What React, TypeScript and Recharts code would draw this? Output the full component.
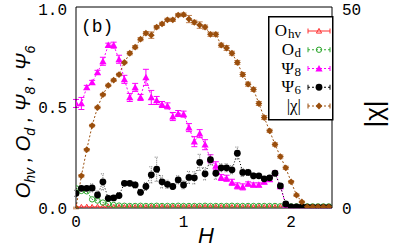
import React from "react";
import { LineChart, Line, XAxis, YAxis, ErrorBar, Legend, Label } from "recharts";

// field H, step 0.05
const hValues = [
  0, 0.05, 0.1, 0.15, 0.2, 0.25, 0.3, 0.35, 0.4, 0.45, 0.5, 0.55, 0.6, 0.65, 0.7, 0.75,
  0.8, 0.85, 0.9, 0.95, 1.0, 1.05, 1.1, 1.15, 1.2, 1.25, 1.3, 1.35, 1.4, 1.45, 1.5, 1.55,
  1.6, 1.65, 1.7, 1.75, 1.8, 1.85, 1.9, 1.95, 2.0, 2.05, 2.1, 2.15, 2.2, 2.25, 2.3, 2.35,
];

const ohv = [
  0.006, 0.005, 0.006, 0.005, 0.006, 0.005, 0.006, 0.005, 0.006, 0.005, 0.006, 0.005,
  0.006, 0.005, 0.006, 0.005, 0.006, 0.005, 0.006, 0.005, 0.006, 0.005, 0.006, 0.005,
  0.006, 0.005, 0.006, 0.005, 0.006, 0.005, 0.006, 0.005, 0.006, 0.005, 0.006, 0.005,
  0.006, 0.005, 0.006, 0.005, 0.004, 0.004, 0.004, 0.004, 0.004, 0.004, 0.004, 0.004,
];

const od = [
  0.098, 0.085, 0.083, 0.043, 0.037, 0.027, 0.02, 0.015, 0.012, 0.011, 0.01, 0.01,
  0.011, 0.01, 0.01, 0.011, 0.01, 0.01, 0.01, 0.011, 0.01, 0.01, 0.01, 0.01,
  0.011, 0.01, 0.01, 0.01, 0.01, 0.011, 0.01, 0.01, 0.01, 0.01, 0.01, 0.01,
  0.01, 0.01, 0.009, 0.009, 0.008, 0.008, 0.008, 0.008, 0.008, 0.008, 0.008, 0.008,
];

const psi8 = [
  0.52, 0.52, 0.6, 0.625, 0.675, 0.73, 0.81, 0.81, 0.74, 0.64, 0.55, 0.6,
  0.55, 0.65, 0.55, 0.535, 0.515, 0.508, 0.455, 0.47, 0.467, 0.4, 0.33, 0.37,
  0.315, 0.245, 0.21, 0.152, 0.148, 0.128, 0.11, 0.105, 0.12, 0.115, 0.115, 0.13,
  0.143, 0.173, 0.107, 0.015, 0.004, 0.003, 0.003, 0.003, 0.003, 0.003, 0.003, 0.003,
];
const psi8Err = [
  0.02, 0.03, 0.01, 0.01, 0.01, 0.02, 0.01, 0.015, 0.02, 0.02, 0.02, 0.02,
  0.015, 0.04, 0.035, 0.02, 0.015, 0.015, 0.02, 0.015, 0.015, 0.02, 0.025, 0.02,
  0.025, 0.02, 0.02, 0.015, 0.015, 0.015, 0.015, 0.015, 0.01, 0.01, 0.01, 0.01,
  0.01, 0.01, 0.01, 0.005, 0.003, 0.002, 0.002, 0.002, 0.002, 0.002, 0.002, 0.002,
];

const psi6 = [
  0.073, 0.098, 0.098, 0.1, 0.065, 0.13, 0.048, 0.05, 0.062, 0.123, 0.123, 0.115,
  0.078, 0.107, 0.165, 0.193, 0.13, 0.118, 0.107, 0.14, 0.115, 0.152, 0.15, 0.227,
  0.17, 0.24, 0.173, 0.2, 0.2, 0.19, 0.273, 0.177, 0.177, 0.16, 0.16, 0.145,
  0.15, 0.173, 0.11, 0.02, 0.006, 0.005, 0.005, 0.004, 0.003, 0.003, 0.003, 0.003,
];
const psi6Err = [
  0.015, 0.01, 0.01, 0.02, 0.02, 0.04, 0.015, 0.01, 0.015, 0.01, 0.01, 0.015,
  0.015, 0.02, 0.04, 0.06, 0.03, 0.02, 0.015, 0.02, 0.02, 0.03, 0.03, 0.04,
  0.03, 0.025, 0.03, 0.02, 0.02, 0.02, 0.03, 0.02, 0.015, 0.015, 0.01, 0.01,
  0.01, 0.01, 0.01, 0.005, 0.003, 0.002, 0.002, 0.002, 0.002, 0.002, 0.002, 0.002,
];

const chi = [
  0, 8, 14.5, 20.5, 25, 28.2, 30.5, 31.8, 33.2, 36.2, 38.5, 40,
  42, 43.5, 43, 45, 45.8, 46.8, 46.8, 48, 48.1, 47, 46.2, 45.5,
  45, 43.2, 43.2, 40.5, 39.8, 38.5, 36.2, 33.2, 30.8, 29.5, 26, 22.5,
  19.2, 15.8, 12.8, 10, 6.5, 3.2, 1.5, 0.3, 0.3, 0.3, 0.3, 0.3,
];
const chiErr = [
  0.2, 0.3, 0.3, 0.3, 0.3, 0.3, 0.3, 0.3, 0.3, 0.3, 0.4, 0.4,
  0.4, 0.4, 0.8, 0.4, 0.4, 0.4, 0.4, 0.4, 0.4, 0.9, 0.5, 0.8,
  0.5, 0.5, 0.5, 0.5, 0.6, 0.5, 0.5, 0.5, 0.5, 0.5, 0.5, 0.5,
  0.4, 0.4, 0.4, 0.4, 0.3, 0.3, 0.2, 0.1, 0.1, 0.1, 0.1, 0.1,
];

const xTicks = [0, 1, 2];
const xMinorTicks = [0, 0.2, 0.4, 0.6, 0.8, 1.0, 1.2, 1.4, 1.6, 1.8, 2.0, 2.2];
const leftTicks = [0, 0.5, 1];
const rightTicks = [0, 50];

const RED = "#ff3030";
const GREEN = "#30a830";
const MAGENTA = "#ff00ff";
const BLACK = "#000000";
const BROWN = "#9a4e0c";

const data = hValues.map((h, i) => ({
  h,
  ohv: ohv[i],
  od: od[i],
  psi8: psi8[i],
  psi8Err: psi8Err[i],
  psi6: psi6[i],
  psi6Err: psi6Err[i],
  chi: chi[i],
  chiErr: chiErr[i],
}));

const tri = (cx: number, cy: number, s: number) =>
  `M${cx},${cy - s} L${cx + s},${cy + s * 0.8} L${cx - s},${cy + s * 0.8} Z`;
const diamond = (cx: number, cy: number, s: number) =>
  `M${cx},${cy - s} L${cx + s},${cy} L${cx},${cy + s} L${cx - s},${cy} Z`;

const Marker = ({ kind, cx, cy }: { kind: string; cx: number; cy: number }) => {
  if (cx == null || cy == null) return null;
  switch (kind) {
    case "ohv":
      return <path d={tri(cx, cy, 2.6)} fill="none" stroke={RED} strokeWidth={1} />;
    case "od":
      return <circle cx={cx} cy={cy} r={2.7} fill="none" stroke={GREEN} strokeWidth={1} />;
    case "psi8":
      return <path d={tri(cx, cy, 3.6)} fill={MAGENTA} />;
    case "psi6":
      return <circle cx={cx} cy={cy} r={3.4} fill={BLACK} />;
    default:
      return <path d={diamond(cx, cy, 3.4)} fill={BROWN} />;
  }
};

const dotFor = (kind: string) => (p: any) => (
  <Marker key={`${kind}-${p.index}`} kind={kind} cx={p.cx} cy={p.cy} />
);

const legendRows = [
  { kind: "ohv", main: "O", sub: "hv", color: RED, dash: undefined },
  { kind: "od", main: "O", sub: "d", color: GREEN, dash: "2 2" },
  { kind: "psi8", main: "Ψ", sub: "8", color: MAGENTA, dash: "2 2" },
  { kind: "psi6", main: "Ψ", sub: "6", color: BLACK, dash: "2 2" },
  { kind: "chi", main: "|χ|", sub: "", color: BROWN, dash: "2 2" },
];

const LegendBox = () => (
  <svg width={66} height={105} style={{ display: "block" }}>
    <rect x={0.75} y={0.75} width={64} height={103} fill="#fff" stroke="#000" strokeWidth={1.5} />
    {legendRows.map((r, i) => {
      const y = 15 + i * 18.75;
      const subW = r.sub.length * 7;
      return (
        <g key={r.kind}>
          <text
            x={33 - subW}
            y={y + 5}
            textAnchor="end"
            fontFamily="Liberation Serif"
            fontSize={17}
            fill="#000"
          >
            {r.main}
          </text>
          {r.sub && (
            <text x={33} y={y + 7} textAnchor="end" fontFamily="Liberation Serif" fontSize={13} fill="#000">
              {r.sub}
            </text>
          )}
          <line x1={40} x2={62} y1={y} y2={y} stroke={r.color} strokeWidth={1} strokeDasharray={r.dash} />
          <line x1={40} x2={40} y1={y - 2.5} y2={y + 2.5} stroke={r.color} strokeWidth={1} />
          <line x1={62} x2={62} y1={y - 2.5} y2={y + 2.5} stroke={r.color} strokeWidth={1} />
          <Marker kind={r.kind} cx={51} cy={y} />
        </g>
      );
    })}
  </svg>
);

const tickFont = { fill: "#000", fontSize: 16, fontFamily: "Liberation Mono" };

const LeftTitle = () => (
  <text
    x={30}
    y={122}
    transform="rotate(-90 30 122)"
    textAnchor="middle"
    fontFamily="Liberation Sans"
    fontStyle="italic"
    fontSize={20}
    fill="#000"
  >
    <tspan>O</tspan>
    <tspan dy={5} fontSize={14}>hv</tspan>
    <tspan dy={-5}> , O</tspan>
    <tspan dy={5} fontSize={14}>d</tspan>
    <tspan dy={-5}> , Ψ</tspan>
    <tspan dy={5} fontSize={14}>8</tspan>
    <tspan dy={-5}> , Ψ</tspan>
    <tspan dy={5} fontSize={14}>6</tspan>
  </text>
);

const RightTitle = () => (
  <text
    x={383}
    y={114}
    transform="rotate(-90 383 114)"
    textAnchor="middle"
    fontFamily="Liberation Sans"
    fontSize={26}
    fill="#000"
  >
    |χ|
  </text>
);

const BottomTitle = () => (
  <g>
    <text x={206} y={243} textAnchor="middle" fontFamily="Liberation Sans" fontStyle="italic" fontSize={22} fill="#000">
      H
    </text>
    <text x={81} y={32} fontFamily="Liberation Mono" fontSize={18} fill="#000">
      (b)
    </text>
  </g>
);

const App = () => {
  return (
    <div style={{ position: "absolute", left: 0, top: 0, background: "#fff" }}>
      <LineChart
        width={395}
        height={249}
        data={data}
        margin={{ top: 7, right: 23, bottom: 11, left: 16 }}
      >
        <XAxis
          xAxisId="b"
          dataKey="h"
          type="number"
          domain={[0, 2.38]}
          ticks={xTicks}
          allowDataOverflow
          tickLine={false}
          axisLine={{ stroke: "#000", strokeWidth: 1 }}
          tick={tickFont}
          height={30}
          tickMargin={2}
        >
          <Label content={<BottomTitle />} />
        </XAxis>
        <XAxis
          xAxisId="t"
          orientation="top"
          dataKey="h"
          type="number"
          domain={[0, 2.38]}
          ticks={xMinorTicks}
          allowDataOverflow
          mirror
          tick={false}
          tickSize={4}
          tickLine={{ stroke: "#000" }}
          axisLine={{ stroke: "#000", strokeWidth: 1 }}
          height={1}
        />
        <YAxis
          yAxisId="l"
          domain={[0, 1]}
          ticks={leftTicks}
          allowDataOverflow
          tickFormatter={(v: number) => v.toFixed(1)}
          tickLine={false}
          axisLine={{ stroke: "#000", strokeWidth: 1 }}
          tick={tickFont}
          width={60}
          tickMargin={3}
        >
          <Label content={<LeftTitle />} />
        </YAxis>
        <YAxis
          yAxisId="r"
          orientation="right"
          domain={[0, 50]}
          ticks={rightTicks}
          allowDataOverflow
          tickLine={false}
          axisLine={{ stroke: "#000", strokeWidth: 1 }}
          tick={tickFont}
          width={40}
          tickMargin={4}
        >
          <Label content={<RightTitle />} />
        </YAxis>
        <Legend
          layout="vertical"
          align="center"
          verticalAlign="middle"
          content={<LegendBox />}
          wrapperStyle={{ left: 268, top: 16, width: 66, height: 105 }}
        />
        <Line
          xAxisId="b"
          yAxisId="l"
          dataKey="ohv"
          stroke={RED}
          strokeWidth={1}
          dot={dotFor("ohv")}
          isAnimationActive={false}
          legendType="none"
        />
        <Line
          xAxisId="b"
          yAxisId="l"
          dataKey="od"
          stroke={GREEN}
          strokeWidth={1}
          strokeDasharray="2 2"
          dot={dotFor("od")}
          isAnimationActive={false}
        />
        <Line
          xAxisId="b"
          yAxisId="l"
          dataKey="psi8"
          stroke={MAGENTA}
          strokeWidth={1}
          strokeDasharray="2 2"
          dot={dotFor("psi8")}
          isAnimationActive={false}
        >
          <ErrorBar dataKey="psi8Err" width={3} stroke={MAGENTA} strokeWidth={1} direction="y" />
        </Line>
        <Line
          xAxisId="b"
          yAxisId="l"
          dataKey="psi6"
          stroke={BLACK}
          strokeWidth={1}
          strokeDasharray="1 2"
          dot={dotFor("psi6")}
          isAnimationActive={false}
        >
          <ErrorBar dataKey="psi6Err" width={2} stroke="#777" strokeWidth={1} strokeDasharray="1 1" direction="y" />
        </Line>
        <Line
          xAxisId="b"
          yAxisId="r"
          dataKey="chi"
          stroke={BROWN}
          strokeWidth={1}
          strokeDasharray="2 2"
          dot={dotFor("chi")}
          isAnimationActive={false}
        >
          <ErrorBar dataKey="chiErr" width={3} stroke="#c08050" strokeWidth={1} direction="y" />
        </Line>
      </LineChart>
    </div>
  );
};

export default App;
